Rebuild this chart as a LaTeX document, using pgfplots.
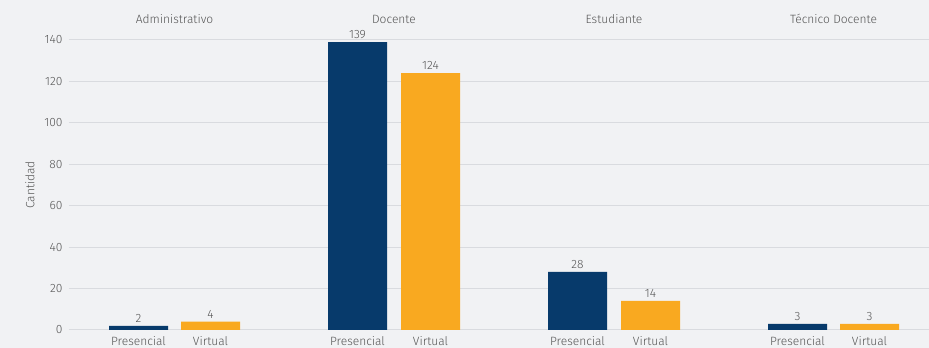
\documentclass[border=0pt]{standalone}
\usepackage{pgfplots}
\pgfplotsset{compat=1.18}
\usepackage{fontspec}
\setmainfont{Fira Sans}[UprightFont=* Light]
\definecolor{bg}{HTML}{F1F2F4}
\definecolor{gridc}{HTML}{D9DBDF}
\definecolor{pres}{HTML}{073A6B}
\definecolor{virt}{HTML}{F9A920}
\definecolor{txt}{HTML}{555555}
\begin{document}
\begin{tikzpicture}
\useasboundingbox[fill=bg] (0,0) rectangle (929pt,348pt);
\begin{axis}[
  at={(69pt,18pt)}, anchor=south west,
  scale only axis, width=860pt, height=290pt,
  xmin=69, xmax=929, ymin=0, ymax=140,
  ytick={0,20,...,140},
  xtick={138.5,210.5,357.5,430.5,577.5,650.5,797.5,869.5},
  xticklabels={Presencial,Virtual,Presencial,Virtual,Presencial,Virtual,Presencial,Virtual},
  axis line style={draw=none},
  major tick length=0pt,
  xmajorgrids=false,
  ymajorgrids=true, grid style={draw=gridc, line width=1pt},
  tick label style={font=\fontsize{12}{14}\selectfont, text=txt},
  /pgf/number format/assume math mode=true,
  yticklabel style={xshift=-3pt},
  xticklabel style={yshift=-3pt},
  ylabel={Cantidad},
  ylabel style={font=\fontsize{12}{14}\selectfont, text=txt, at={(-31pt,0.5)}, anchor=south},
  ybar, bar width=59pt, bar shift=0pt,
  nodes near coords,
  nodes near coords style={font=\fontsize{12}{14}\selectfont, text=txt, anchor=south, yshift=0pt},
  clip=false,
]
\addplot[fill=pres, draw=none] coordinates {(138.5,2) (357.5,139) (577.5,28) (797.5,3)};
\addplot[fill=virt, draw=none] coordinates {(210.5,4) (430.5,124) (650.5,14) (869.5,3)};
\foreach \x/\t in {174.5/Administrativo, 394/Docente, 614/Estudiante, 833.5/Técnico Docente}{
  \edef\tmp{\noexpand\node[font=\noexpand\fontsize{12}{14}\noexpand\selectfont, text=txt, anchor=center] at (axis cs:\x,140) [yshift=21pt] {\t};}
  \tmp
}
\end{axis}
\end{tikzpicture}
\end{document}
